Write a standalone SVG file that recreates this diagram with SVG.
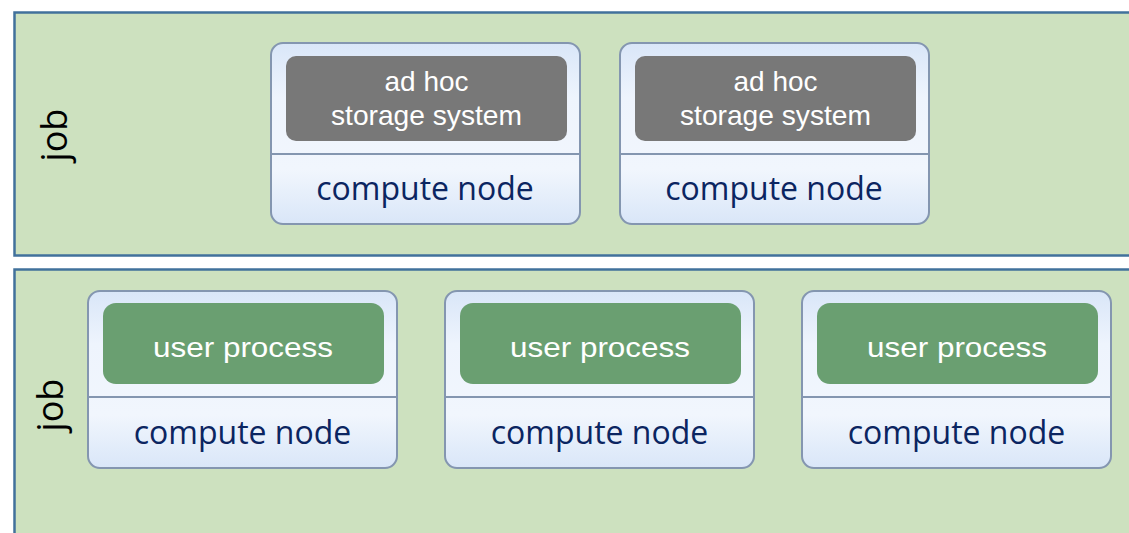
<svg xmlns="http://www.w3.org/2000/svg" width="1129" height="533" viewBox="0 0 1129 533">
  <style>
    .panel { fill: #cde1bf; stroke: #41719c; stroke-width: 2.5; }
    .node { fill: url(#nodeGrad); stroke: #8496b0; stroke-width: 2; }
    .divider { stroke: #8496b0; stroke-width: 2; }
    .storage { fill: #787878; }
    .proc { fill: #6a9f71; }
    .inner { font-family: "Liberation Sans", Arial, sans-serif; font-size: 28px; fill: #ffffff; text-anchor: middle; }
    .cn { font-family: "Open Sans", "Noto Sans", sans-serif; font-size: 32px; fill: #0b2561; text-anchor: middle; }
    .job { font-family: "Open Sans", "Noto Sans", sans-serif; font-size: 36px; fill: #000000; text-anchor: middle; }
  </style>
  <defs>
    <linearGradient id="nodeGrad" x1="0" y1="0" x2="0" y2="1">
      <stop offset="0" stop-color="#d9e6f8"/>
      <stop offset="0.3" stop-color="#eef4fd"/>
      <stop offset="0.7" stop-color="#f1f6fd"/>
      <stop offset="1" stop-color="#d9e6f8"/>
    </linearGradient>
  </defs>

  <!-- job panels -->
  <g id="job-top">
    <rect class="panel" x="14.5" y="12.5" width="1130" height="243"/>
    <text class="job" transform="translate(67,135) rotate(-90)">job</text>
  </g>
  <g id="job-bottom">
    <rect class="panel" x="14.5" y="269.5" width="1130" height="280"/>
    <text class="job" transform="translate(63,405) rotate(-90)">job</text>
  </g>

  <!-- compute nodes hosting the ad hoc storage system -->
  <g id="node-storage-1">
    <rect class="node" x="271" y="43" width="309" height="181" rx="12"/>
    <line class="divider" x1="271" y1="154" x2="580" y2="154"/>
    <rect class="storage" x="286" y="56" width="281" height="85" rx="10"/>
    <text class="inner" x="426.5" y="91" textLength="84" lengthAdjust="spacingAndGlyphs">ad hoc</text>
    <text class="inner" x="426.5" y="125" textLength="191" lengthAdjust="spacingAndGlyphs">storage system</text>
    <text class="cn" x="425" y="200">compute node</text>
  </g>
  <g id="node-storage-2">
    <rect class="node" x="620" y="43" width="309" height="181" rx="12"/>
    <line class="divider" x1="620" y1="154" x2="929" y2="154"/>
    <rect class="storage" x="635" y="56" width="281" height="85" rx="10"/>
    <text class="inner" x="775.5" y="91" textLength="84" lengthAdjust="spacingAndGlyphs">ad hoc</text>
    <text class="inner" x="775.5" y="125" textLength="191" lengthAdjust="spacingAndGlyphs">storage system</text>
    <text class="cn" x="774" y="200">compute node</text>
  </g>

  <!-- compute nodes running user processes -->
  <g id="node-user-1">
    <rect class="node" x="88" y="291" width="309" height="177" rx="12"/>
    <line class="divider" x1="88" y1="397" x2="397" y2="397"/>
    <rect class="proc" x="103" y="303" width="281" height="81" rx="13"/>
    <text class="inner" x="243" y="357" textLength="180" lengthAdjust="spacingAndGlyphs">user process</text>
    <text class="cn" x="242.5" y="444">compute node</text>
  </g>
  <g id="node-user-2">
    <rect class="node" x="445" y="291" width="309" height="177" rx="12"/>
    <line class="divider" x1="445" y1="397" x2="754" y2="397"/>
    <rect class="proc" x="460" y="303" width="281" height="81" rx="13"/>
    <text class="inner" x="600" y="357" textLength="180" lengthAdjust="spacingAndGlyphs">user process</text>
    <text class="cn" x="599.5" y="444">compute node</text>
  </g>
  <g id="node-user-3">
    <rect class="node" x="802" y="291" width="309" height="177" rx="12"/>
    <line class="divider" x1="802" y1="397" x2="1111" y2="397"/>
    <rect class="proc" x="817" y="303" width="281" height="81" rx="13"/>
    <text class="inner" x="957" y="357" textLength="180" lengthAdjust="spacingAndGlyphs">user process</text>
    <text class="cn" x="956.5" y="444">compute node</text>
  </g>

  <g id="connectors"/>
</svg>
